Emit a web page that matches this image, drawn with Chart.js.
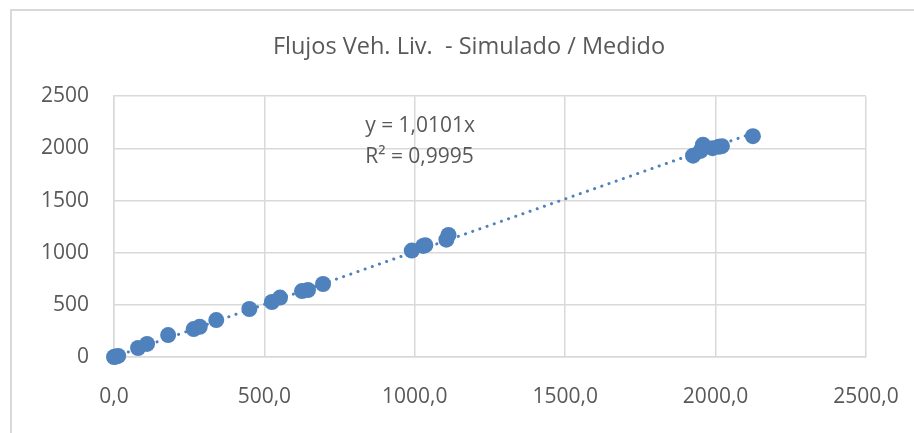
<!DOCTYPE html>
<html>
<head>
<meta charset="utf-8">
<script src="https://cdn.jsdelivr.net/npm/chart.js@4.4.1/dist/chart.umd.min.js"></script>
<style>
  html, body { margin: 0; padding: 0; background: #fff; overflow: hidden; }
  #wrap { position: relative; width: 914px; height: 433px; }
  #frame { position: absolute; left: 10px; top: 9px; width: 940px; height: 460px;
           border-left: 2px solid #d9d9d9; border-top: 2px solid #d9d9d9; box-sizing: border-box; }
  canvas { position: absolute; left: 0; top: 0; }
</style>
</head>
<body>
<div id="wrap">
  <div id="frame"></div>
  <canvas id="myChart" width="914" height="433"></canvas>
</div>
<script>
// flujos medidos (eje x) y simulados (eje y)
var medido   = [0, 5, 14, 80, 110, 180, 265, 285, 340, 450, 525, 552, 625, 645, 695,
                990, 1028, 1035, 1105, 1112, 1925, 1950, 1958, 1990, 2010, 2021, 2124];
var simulado = [0, 4, 10, 86, 125, 210, 268, 290, 354, 460, 527, 570, 632, 642, 700,
                1020, 1065, 1072, 1125, 1170, 1930, 1975, 2035, 2002, 2015, 2021, 2117];

var xTicks = [0, 500, 1000, 1500, 2000, 2500];
var yTicks = [0, 500, 1000, 1500, 2000, 2500];

var slope = 1.0101;
var r2 = '0,9995';
var titulo = 'Flujos Veh. Liv.  - Simulado / Medido';

var azul = '#4f81bd';
var gris = '#d9d9d9';
var texto = '#595959';
var fuente = "'Open Sans', sans-serif";

var puntos = medido.map(function(m, i) { return { x: m, y: simulado[i] }; });
var xMin = Math.min.apply(null, medido);
var xMax = Math.max.apply(null, medido);
var tendencia = [{ x: xMin, y: xMin * slope }, { x: xMax, y: xMax * slope }];

// ecuacion de la linea de tendencia
var ecuacion = {
    id: 'ecuacion',
    afterDatasetsDraw: function(chart) {
        var ctx = chart.ctx;
        var xs = chart.scales.x, ys = chart.scales.y;
        var px = xs.getPixelForValue(835);
        var py = ys.getPixelForValue(2215);
        ctx.save();
        ctx.fillStyle = texto;
        ctx.font = '21px ' + fuente;
        ctx.textAlign = 'left';
        ctx.textBaseline = 'middle';
        ctx.fillText('y = ' + String(slope).replace('.', ',') + 'x', px, py);
        ctx.fillText('R\u00b2 = ' + r2, px, py + 31);
        ctx.restore();
    }
};

var ctx = document.getElementById('myChart').getContext('2d');
var chart = new Chart(ctx, {
    type: 'scatter',
    data: {
        datasets: [{
            type: 'line',
            label: 'Lineal',
            data: tendencia,
            borderColor: azul,
            borderWidth: 3,
            borderDash: [0.1, 7.5],
            borderCapStyle: 'round',
            pointRadius: 0,
            fill: false
        }, {
            label: 'Simulado / Medido',
            data: puntos,
            backgroundColor: azul,
            borderColor: azul,
            borderWidth: 0,
            pointRadius: 8,
            pointHoverRadius: 8,
            clip: false
        }]
    },
    options: {
        responsive: false,
        animation: false,
        layout: { padding: { left: 24, right: 0, top: 0, bottom: 0 } },
        plugins: {
            legend: { display: false },
            tooltip: { enabled: false },
            title: {
                display: true,
                text: titulo,
                color: texto,
                font: { family: fuente, size: 23.5, weight: 'normal', lineHeight: 1.2 },
                padding: { top: 33, bottom: 35 }
            }
        },
        scales: {
            x: {
                type: 'linear',
                min: 0, max: 2500,
                afterBuildTicks: function(s) { s.ticks = xTicks.map(function(v) { return { value: v }; }); },
                afterFit: function(s) { s.height = 76; s.paddingRight = 48; },
                grid: { color: gris, lineWidth: 1.5, drawTicks: false },
                border: { color: gris, width: 1.5 },
                ticks: {
                    color: texto,
                    padding: 27,
                    maxRotation: 0,
                    font: { family: fuente, size: 21, lineHeight: 1.2 },
                    callback: function(v) { return v.toFixed(1).replace('.', ','); }
                }
            },
            y: {
                type: 'linear',
                min: 0, max: 2500,
                afterBuildTicks: function(s) { s.ticks = yTicks.map(function(v) { return { value: v }; }); },
                afterFit: function(s) { s.width = 90; },
                grid: { color: gris, lineWidth: 1.5, drawTicks: false },
                border: { color: gris, width: 1.5 },
                ticks: {
                    color: texto,
                    padding: 25,
                    font: { family: fuente, size: 21, lineHeight: 1.2 },
                    callback: function(v) { return String(v); }
                }
            }
        }
    },
    plugins: [ecuacion]
});
</script>
</body>
</html>
